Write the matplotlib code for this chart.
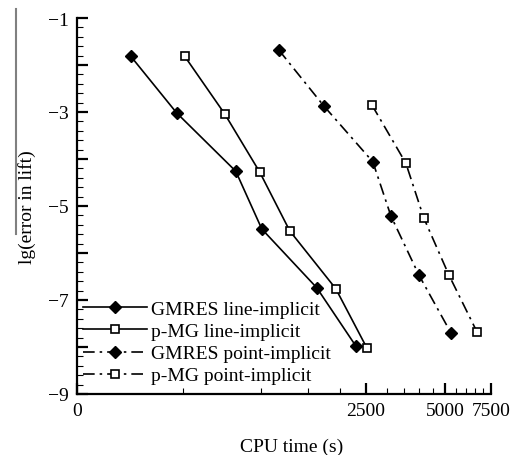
import matplotlib
matplotlib.use("Agg")
import matplotlib.pyplot as plt
from matplotlib.lines import Line2D

plt.rcParams['font.family'] = ['Liberation Serif', 'DejaVu Serif']

# Data (CPU time in s, lg(error in lift))
gmres_line_x = [317, 475, 798, 1003, 1625, 2290]
gmres_line_y = [-1.81, -3.02, -4.26, -5.49, -6.74, -7.98]
pmg_line_x = [509, 724, 985, 1282, 1920, 2522]
pmg_line_y = [-1.81, -3.04, -4.28, -5.53, -6.76, -8.02]
gmres_point_x = [1164, 1728, 2658, 3114, 3983, 5277]
gmres_point_y = [-1.68, -2.87, -4.06, -5.21, -6.47, -7.70]
pmg_point_x = [2636, 3552, 4161, 5184, 6633]
pmg_point_y = [-2.85, -4.09, -5.26, -6.47, -7.68]

labels = ["GMRES line-implicit", "p-MG line-implicit",
          "GMRES point-implicit", "p-MG point-implicit"]
xtick_vals = [198, 2500, 5000, 7500]
xtick_labels = ["0", "2500", "5000", "7500"]
xminor_vals = [500, 1000, 1500, 2000, 3000, 3500, 4000, 4500, 5500, 6000, 6500, 7000]
ytick_labels = {-1: "\u22121", -3: "\u22123", -5: "\u22125", -7: "\u22127", -9: "\u22129"}

W, H = 517, 456
fig = plt.figure(figsize=(W / 100, H / 100), dpi=100)
ax = fig.add_axes([77 / W, 1 - 395 / H, (491 - 77) / W, (395 - 19) / H])

dashdot = (0, (7, 3, 1.5, 3))
lw = 1.2
ax.plot(gmres_line_x, gmres_line_y, color='black', lw=lw, marker='D',
        markersize=6.3, markerfacecolor='black', label=labels[0])
ax.plot(pmg_line_x, pmg_line_y, color='black', lw=lw, marker='s',
        markersize=5.2, markerfacecolor='white', markeredgewidth=1.2, label=labels[1])
ax.plot(gmres_point_x, gmres_point_y, color='black', lw=lw, linestyle=dashdot,
        marker='D', markersize=6.3, markerfacecolor='black', label=labels[2])
ax.plot(pmg_point_x, pmg_point_y, color='black', lw=lw, linestyle=dashdot,
        marker='s', markersize=5.2, markerfacecolor='white', markeredgewidth=1.2,
        label=labels[3])

ax.set_xscale('log')
ax.set_xlim(198, 7500)
ax.set_ylim(-9, -1)
ax.set_xticks(xtick_vals)
ax.set_xticklabels(xtick_labels)
ax.set_xticks(xminor_vals, minor=True)
ax.set_xticklabels([], minor=True)

yt = list(range(-9, 0))
ax.set_yticks(yt)
ax.set_yticklabels([ytick_labels.get(v, "") for v in yt])
ax.set_yticks([v / 5 for v in range(-45, -4)], minor=True)

for s in ['top', 'right']:
    ax.spines[s].set_visible(False)
for s in ['left', 'bottom']:
    ax.spines[s].set_linewidth(1.6)

ax.tick_params(axis='both', which='major', direction='in', length=8, width=1.6,
               labelsize=14)
ax.tick_params(axis='both', which='minor', direction='in', length=4, width=0.8)
ax.tick_params(axis='y', which='major', pad=6)
ax.tick_params(axis='x', which='major', pad=6)

ax.set_xlabel("CPU time (s)", fontsize=14, labelpad=8)
ax.xaxis.set_label_coords(0.519, -0.115)
ax.set_ylabel("lg(error in lift)", fontsize=14, labelpad=8.5)

# overline over "error in lift"
fig.add_artist(Line2D([16 / W, 16 / W], [1 - 10 / H, 1 - 235 / H],
                      transform=fig.transFigure, color='#808080', lw=1.5))

leg = ax.legend(loc='center left', bbox_to_anchor=(83 / W, 1 - 343.5 / H),
                bbox_transform=fig.transFigure, frameon=False, fontsize=14,
                handlelength=3.3, handletextpad=0.2, borderpad=0,
                borderaxespad=0, labelspacing=0.23)

fig.savefig("out.png", dpi=100)
